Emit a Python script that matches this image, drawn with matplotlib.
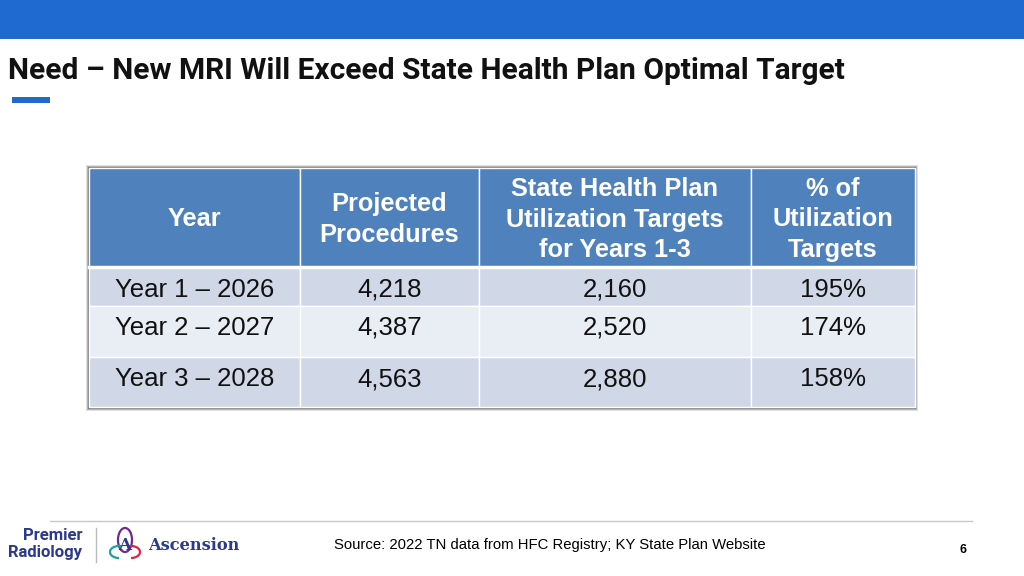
import matplotlib
matplotlib.use("Agg")
import matplotlib.pyplot as plt
from matplotlib.patches import Rectangle, Arc

# table data
headers = ["Year", "Projected\nProcedures", "State Health Plan\nUtilization Targets\nfor Years 1-3",
           "% of\nUtilization\nTargets"]
years = ["Year 1 \u2013 2026", "Year 2 \u2013 2027", "Year 3 \u2013 2028"]
projected = [4218, 4387, 4563]
targets = [2160, 2520, 2880]
pct = [195, 174, 158]

title = "Need \u2013 New MRI Will Exceed State Health Plan Optimal Target"
source = "Source: 2022 TN data from HFC Registry; KY State Plan Website"

fig = plt.figure(figsize=(10.24, 5.76), dpi=100)
ax = fig.add_axes([0, 0, 1, 1])
ax.set_xlim(0, 1024)
ax.set_ylim(576, 0)
ax.axis("off")

# top band, title
ax.add_patch(Rectangle((0, 0), 1024, 39, color="#1F6AD0", lw=0))
ax.text(8, 71, title, fontsize=21.5, fontweight="bold", family="Roboto", color="#111111", va="center")
ax.add_patch(Rectangle((12, 97), 38, 6, color="#1F6AD0", lw=0))

# table layout
col_x = [89, 300, 479, 751, 915]
head_top, head_bot = 168, 267
row_y = [267, 306, 357, 407]
text_y = [290, 328, 379]

# shadow
for k, a in enumerate([0.12, 0.2, 0.3]):
    d = 3 - k
    ax.add_patch(Rectangle((col_x[0] - d, head_top - d), col_x[-1] - col_x[0] + 2 * d,
                           row_y[-1] - head_top + 2 * d + 1, color="black", alpha=a, lw=0))

for j in range(4):
    ax.add_patch(Rectangle((col_x[j], head_top), col_x[j + 1] - col_x[j], head_bot - head_top,
                           facecolor="#4F81BD", edgecolor="white", lw=1))
    ax.text((col_x[j] + col_x[j + 1]) / 2, (head_top + head_bot) / 2 + 2, headers[j], color="white",
            fontsize=18.3, fontweight="bold", family="Liberation Sans", ha="center", va="center",
            linespacing=1.35)

row_colors = ["#D0D8E8", "#E9EDF4", "#D0D8E8"]
for i in range(3):
    cells = [years[i], f"{projected[i]:,}", f"{targets[i]:,}", f"{pct[i]}%"]
    for j in range(4):
        ax.add_patch(Rectangle((col_x[j], row_y[i]), col_x[j + 1] - col_x[j], row_y[i + 1] - row_y[i],
                               facecolor=row_colors[i], edgecolor="white", lw=1))
        ax.text((col_x[j] + col_x[j + 1]) / 2, text_y[i], cells[j], color="#111111",
                fontsize=18.5, family="Liberation Sans", ha="center", va="center")
ax.plot([col_x[0], col_x[-1]], [head_bot, head_bot], color="white", lw=2.5)

# footer
ax.plot([50, 972], [521, 521], color="#C8C8C8", lw=1)
ax.text(334, 545, source, fontsize=10.7, family="Liberation Sans", color="black", va="center")
ax.text(963, 550, "6", fontsize=9, fontweight="bold", family="Liberation Sans", ha="center", va="center")

# logos
navy = "#2B3A8C"
ax.text(82, 535, "Premier", fontsize=12, fontweight="bold", family="Roboto", color=navy, ha="right", va="center")
ax.text(82, 552, "Radiology", fontsize=12, fontweight="bold", family="Roboto", color=navy, ha="right", va="center")
ax.plot([96, 96], [528, 562], color="#BBBBBB", lw=1)
ax.add_patch(Arc((125, 540), 14, 24, theta1=0, theta2=360, color="#6E2C91", lw=1.6))
ax.add_patch(Arc((119, 552), 18, 12, theta1=90, theta2=300, color="#1BA39C", lw=1.6))
ax.add_patch(Arc((131, 552), 18, 12, theta1=240, theta2=450, color="#D6264A", lw=1.6))
ax.text(125, 546, "A", fontsize=12, fontweight="bold", family="DejaVu Serif", color=navy, ha="center", va="center")
ax.text(148, 545, "Ascension", fontsize=11.7, fontweight="bold", family="DejaVu Serif", color=navy, va="center")

fig.savefig("out.png", dpi=100)
